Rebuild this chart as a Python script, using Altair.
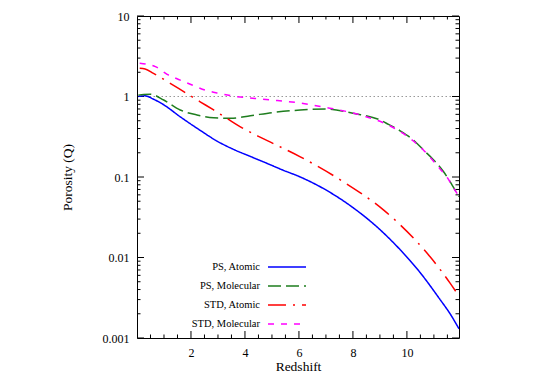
import altair as alt
import pandas as pd

FONT = "Liberation Serif"

series_names = ["PS, Atomic", "PS, Molecular", "STD, Atomic", "STD, Molecular"]
series_colors = ["#0000ff", "#1e7d1e", "#ff0000", "#ff00ff"]
series_dashes = [[1, 0], [13, 5], [18, 7, 2, 7], [6, 7]]

ps_atomic_z = [0.05, 0.3, 0.6, 1.0, 1.6, 2.34, 2.96, 3.58, 4.2, 4.81, 5.4, 6.05, 7.0, 8.0, 8.89, 9.75, 10.49, 11.23, 11.6, 11.93]
ps_atomic_q = [1.00, 1.02, 0.93, 0.785, 0.56, 0.38, 0.28, 0.22, 0.18, 0.148, 0.122, 0.10, 0.069, 0.0417, 0.024, 0.0125, 0.0065, 0.0030, 0.0020, 0.0013]

ps_molecular_z = [0.05, 0.25, 0.49, 0.99, 1.6, 2.22, 2.84, 3.46, 4.2, 5.0, 6.05, 7.0, 8.0, 9.01, 9.32, 9.75, 10.24, 10.61, 10.99, 11.36, 11.67, 11.93]
ps_molecular_q = [1.04, 1.06, 1.07, 0.905, 0.68, 0.59, 0.545, 0.537, 0.577, 0.63, 0.68, 0.70, 0.62, 0.51, 0.45, 0.375, 0.288, 0.217, 0.163, 0.116, 0.080, 0.057]

std_atomic_z = [0.1, 0.3, 0.61, 1.23, 1.73, 2.34, 2.84, 3.33, 3.83, 4.5, 5.0, 6.05, 7.65, 9.13, 10.31, 10.86, 11.6, 11.93]
std_atomic_q = [2.24, 2.2, 1.94, 1.46, 1.15, 0.86, 0.68, 0.536, 0.42, 0.32, 0.265, 0.178, 0.087, 0.039, 0.0165, 0.0102, 0.0048, 0.0033]

std_molecular_z = [0.1, 0.68, 1.1, 1.6, 2.04, 2.53, 2.99, 3.5, 4.0, 4.6, 5.2, 6.05, 7.0, 7.5, 8.27, 9.38, 10.24, 10.61, 11.11, 11.48, 11.85, 11.93]
std_molecular_q = [2.58, 2.35, 1.9, 1.6, 1.39, 1.2, 1.1, 1.02, 0.97, 0.93, 0.89, 0.83, 0.73, 0.68, 0.59, 0.43, 0.28, 0.217, 0.14, 0.10, 0.063, 0.058]

x_tick_labels = [2, 4, 6, 8, 10]
x_minor_ticks = [0.5, 1, 1.5, 2.5, 3, 3.5, 4.5, 5, 5.5, 6.5, 7, 7.5, 8.5, 9, 9.5, 10.5, 11, 11.5]
y_tick_labels = [0.001, 0.01, 0.1, 1, 10]
y_minor_ticks = [k * d for d in [0.001, 0.01, 0.1, 1] for k in range(2, 10)]
reference_level = [1]

W = 322
H = 322

rows = []
for name, zs, qs in [
    (series_names[0], ps_atomic_z, ps_atomic_q),
    (series_names[1], ps_molecular_z, ps_molecular_q),
    (series_names[2], std_atomic_z, std_atomic_q),
    (series_names[3], std_molecular_z, std_molecular_q),
]:
    for z, q in zip(zs, qs):
        rows.append({"z": z, "q": q, "series": name, "order": series_names.index(name)})
df = pd.DataFrame(rows)

xscale = alt.Scale(domain=[0, 11.93], nice=False, zero=False)
yscale = alt.Scale(type="log", domain=[0.001, 10], nice=False)
color_scale = alt.Scale(domain=series_names, range=series_colors)
dash_scale = alt.Scale(domain=series_names, range=series_dashes)

x_axis = alt.Axis(
    values=x_tick_labels, format="d", title="Redshift", ticks=False, tickSize=0,
    domain=False, grid=False, labelPadding=18, labelBaseline="alphabetic",
    labelFlush=False, labelFont=FONT, labelFontSize=12, labelColor="black",
    titleFont=FONT, titleFontSize=13.5, titleFontWeight="normal", titleColor="black",
    titleX=161, titleY=32, titleBaseline="alphabetic", titleAlign="center",
)
y_axis = alt.Axis(
    values=y_tick_labels, format="~g", title="Porosity (Q)", ticks=False, tickSize=0,
    domain=False, grid=False, labelPadding=8, labelFlush=False,
    labelFont=FONT, labelFontSize=12, labelColor="black",
    titleFont=FONT, titleFontSize=13.5, titleFontWeight="normal", titleColor="black",
    titleX=-70, titleY=161, titleAngle=-90, titleAlign="center", titleBaseline="middle",
)

lines = alt.Chart(df).mark_line(strokeWidth=1.5, interpolate="monotone", clip=True).encode(
    x=alt.X("z:Q", scale=xscale, axis=x_axis),
    y=alt.Y("q:Q", scale=yscale, axis=y_axis),
    color=alt.Color("series:N", scale=color_scale, legend=None),
    strokeDash=alt.StrokeDash("series:N", scale=dash_scale, legend=None),
    detail="series:N",
    order="order:Q",
)

ref_line = alt.Chart(pd.DataFrame({"q": reference_level})).mark_rule(
    color="#999999", strokeDash=[1.5, 2.5], strokeWidth=1
).encode(y=alt.Y("q:Q", scale=yscale, axis=y_axis))

xmaj = pd.DataFrame({"z": x_tick_labels})
xmin = pd.DataFrame({"z": x_minor_ticks})
ymaj = pd.DataFrame({"q": y_tick_labels})
ymin = pd.DataFrame({"q": y_minor_ticks})

def xticks(d, y0, y1):
    return alt.Chart(d).mark_rule(color="black", strokeWidth=1).encode(
        x=alt.X("z:Q", scale=xscale, axis=x_axis), y=alt.value(y0), y2=alt.value(y1))

def yticks(d, x0, x1):
    return alt.Chart(d).mark_rule(color="black", strokeWidth=1).encode(
        y=alt.Y("q:Q", scale=yscale, axis=y_axis), x=alt.value(x0), x2=alt.value(x1))

MAJ = 7
MIN = 3.5
tick_layers = [
    xticks(xmaj, H, H - MAJ), xticks(xmaj, 0, MAJ),
    xticks(xmin, H, H - MIN), xticks(xmin, 0, MIN),
    yticks(ymaj, 0, MAJ), yticks(ymaj, W, W - MAJ),
    yticks(ymin, 0, MIN), yticks(ymin, W, W - MIN),
]

inner = alt.layer(ref_line, *tick_layers, lines)

leg_df = pd.DataFrame({"series": series_names})
leg_y = alt.Y("series:N", scale=alt.Scale(type="point", domain=series_names, range=[251, 308], padding=0), axis=None)

leg_text = alt.Chart(leg_df).mark_text(
    align="right", baseline="middle", font=FONT, fontSize=10.5, color="black"
).encode(x=alt.value(123), y=leg_y, text="series:N")

leg_lines = alt.Chart(leg_df).mark_rule(strokeWidth=1.5).encode(
    x=alt.value(131), x2=alt.value(169), y=leg_y,
    color=alt.Color("series:N", scale=color_scale, legend=None),
    strokeDash=alt.StrokeDash("series:N", scale=dash_scale, legend=None),
)

chart = alt.layer(inner, leg_text, leg_lines).resolve_scale(y="independent").properties(
    width=W, height=H,
    padding={"left": 129, "top": 8, "right": 78, "bottom": 36},
    autosize=alt.AutoSizeParams(type="none"),
    background="white",
).configure_view(stroke="black", strokeWidth=1)

chart.save("out.html", embed_options={"renderer": "svg", "actions": False})
